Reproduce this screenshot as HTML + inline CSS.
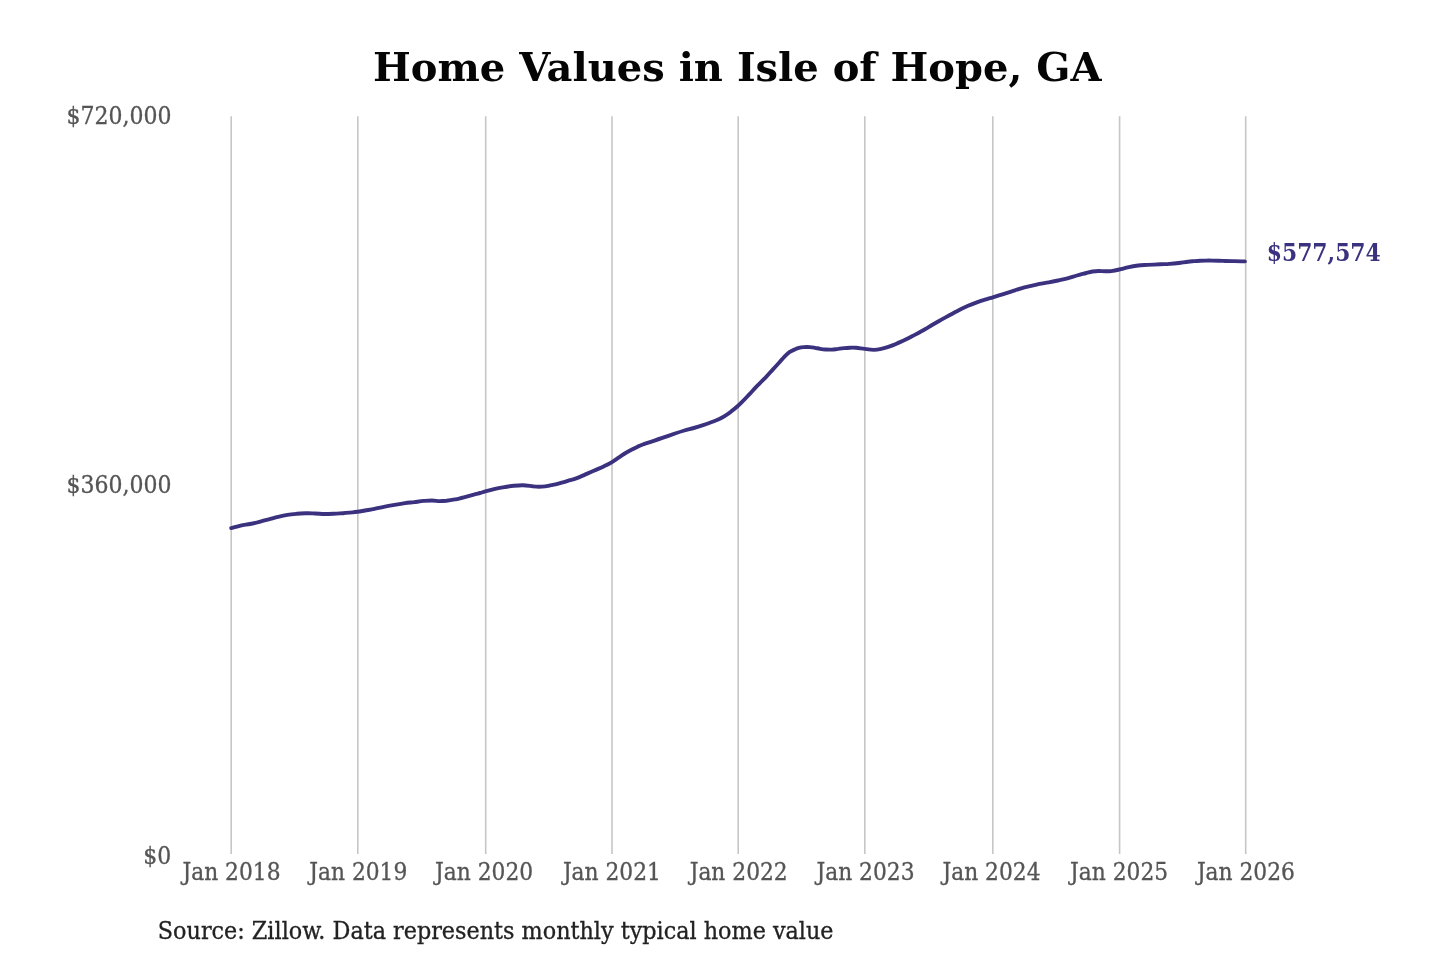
<!DOCTYPE html>
<html lang="en">
<head>
<meta charset="utf-8">
<title>Home Values in Isle of Hope, GA</title>
<style>
html,body{margin:0;padding:0;background:#fff;}
body{width:1440px;height:960px;overflow:hidden;font-family:"DejaVu Serif","Liberation Serif",serif;}
svg{display:block;}
text{font-family:"DejaVu Serif Condensed","DejaVu Serif","Liberation Serif",serif;}
.title{font-family:"DejaVu Serif","Liberation Serif",serif;font-size:40px;font-weight:bold;fill:#050505;text-anchor:middle;}
.ylab text{font-size:24.46px;fill:#555;stroke:#555;stroke-width:.3px;text-anchor:end;}
.xlab text{font-size:24.18px;fill:#555;stroke:#555;stroke-width:.3px;text-anchor:middle;}
.grid line{stroke:#c6c6c6;stroke-width:1.6;}
.val{font-size:23.8px;font-weight:bold;fill:#3b327f;}
.src{font-size:24.8px;fill:#222;stroke:#222;stroke-width:.3px;}
</style>
</head>
<body>
<svg width="1440" height="960" viewBox="0 0 1440 960">
<rect width="1440" height="960" fill="#fff"/>
<text class="title" x="737.25" y="81.0" textLength="728.4" lengthAdjust="spacingAndGlyphs">Home Values in Isle of Hope, GA</text>
<g class="grid"><line x1="231.20" y1="116.2" x2="231.20" y2="854.1"/><line x1="357.80" y1="116.2" x2="357.80" y2="854.1"/><line x1="485.70" y1="116.2" x2="485.70" y2="854.1"/><line x1="612.00" y1="116.2" x2="612.00" y2="854.1"/><line x1="738.20" y1="116.2" x2="738.20" y2="854.1"/><line x1="864.80" y1="116.2" x2="864.80" y2="854.1"/><line x1="992.80" y1="116.2" x2="992.80" y2="854.1"/><line x1="1119.60" y1="116.2" x2="1119.60" y2="854.1"/><line x1="1245.70" y1="116.2" x2="1245.70" y2="854.1"/></g>
<g class="ylab">
<text x="171.5" y="124.3" textLength="105" lengthAdjust="spacingAndGlyphs">$720,000</text>
<text x="171.5" y="492.5" textLength="105" lengthAdjust="spacingAndGlyphs">$360,000</text>
<text x="171.3" y="863.7" textLength="28" lengthAdjust="spacingAndGlyphs">$0</text>
</g>
<g class="xlab"><text x="231.5" y="879.6" textLength="98" lengthAdjust="spacingAndGlyphs">Jan 2018</text><text x="358.3" y="879.6" textLength="98" lengthAdjust="spacingAndGlyphs">Jan 2019</text><text x="484.1" y="879.6" textLength="98" lengthAdjust="spacingAndGlyphs">Jan 2020</text><text x="611.9" y="879.6" textLength="98" lengthAdjust="spacingAndGlyphs">Jan 2021</text><text x="738.7" y="879.6" textLength="98" lengthAdjust="spacingAndGlyphs">Jan 2022</text><text x="865.5" y="879.6" textLength="98" lengthAdjust="spacingAndGlyphs">Jan 2023</text><text x="991.5" y="879.6" textLength="98" lengthAdjust="spacingAndGlyphs">Jan 2024</text><text x="1119.1" y="879.6" textLength="98" lengthAdjust="spacingAndGlyphs">Jan 2025</text><text x="1245.9" y="879.6" textLength="98" lengthAdjust="spacingAndGlyphs">Jan 2026</text></g>
<path d="M231.2 528.1 C232.8 527.7 237.5 526.3 240.6 525.6 C243.7 524.9 246.9 524.6 250.0 524.0 C253.1 523.4 256.3 522.6 259.4 521.8 C262.5 521.0 265.6 520.1 268.8 519.3 C271.9 518.5 275.0 517.5 278.1 516.8 C281.2 516.1 284.4 515.4 287.5 514.9 C290.6 514.4 293.8 514.1 296.9 513.8 C300.0 513.5 303.2 513.4 306.2 513.3 C309.3 513.2 312.0 513.4 315.0 513.5 C318.0 513.6 321.3 513.9 324.4 514.0 C327.5 514.0 330.6 513.9 333.8 513.8 C336.9 513.7 340.0 513.4 343.1 513.2 C346.2 513.0 350.1 512.6 352.5 512.4 C354.9 512.2 355.6 512.1 357.7 511.8 C359.8 511.5 362.2 511.0 365.0 510.5 C367.8 510.0 371.3 509.6 374.4 508.9 C377.5 508.3 380.6 507.5 383.8 506.9 C386.9 506.3 389.6 505.8 393.1 505.2 C396.6 504.6 401.4 503.7 405.0 503.1 C408.6 502.6 411.3 502.5 414.4 502.1 C417.5 501.7 420.8 501.2 423.8 500.9 C426.7 500.7 429.3 500.5 431.9 500.5 C434.5 500.5 437.0 501.0 439.4 501.1 C441.8 501.1 443.9 501.0 446.5 500.8 C449.1 500.5 452.5 499.9 455.0 499.4 C457.5 499.0 459.2 498.5 461.2 498.0 C463.3 497.5 465.4 496.9 467.5 496.3 C469.6 495.7 471.7 495.1 473.8 494.6 C475.8 494.0 478.1 493.5 480.0 493.0 C481.9 492.5 482.8 492.1 485.3 491.4 C487.8 490.8 491.8 489.7 495.0 488.9 C498.2 488.2 501.3 487.6 504.4 487.1 C507.5 486.6 510.6 486.0 513.8 485.7 C516.9 485.4 520.0 485.1 523.1 485.2 C526.2 485.3 529.9 486.0 532.5 486.3 C535.1 486.6 536.7 486.8 538.8 486.8 C540.8 486.8 542.9 486.7 545.0 486.4 C547.1 486.2 549.2 485.6 551.2 485.2 C553.3 484.8 555.4 484.5 557.5 483.9 C559.6 483.4 561.7 482.7 563.8 482.1 C565.8 481.5 567.9 480.8 570.0 480.2 C572.1 479.6 573.8 479.2 576.2 478.3 C578.8 477.4 582.0 475.9 585.0 474.6 C588.0 473.3 591.3 471.9 594.4 470.5 C597.5 469.1 600.8 467.9 603.8 466.4 C606.7 465.0 609.4 463.7 612.0 462.1 C614.6 460.5 617.1 458.6 619.4 457.1 C621.7 455.6 623.5 454.2 625.6 453.0 C627.7 451.8 629.8 450.7 631.9 449.6 C634.0 448.5 636.0 447.4 638.1 446.4 C640.2 445.5 641.8 444.9 644.4 443.9 C647.0 443.0 650.6 441.8 653.8 440.8 C656.9 439.8 659.6 438.9 663.1 437.7 C666.6 436.5 671.5 434.7 675.0 433.5 C678.5 432.3 681.3 431.4 684.4 430.5 C687.5 429.6 690.6 428.9 693.8 428.0 C696.9 427.1 700.0 426.2 703.1 425.2 C706.2 424.2 709.9 422.8 712.5 421.8 C715.1 420.8 716.7 420.3 718.8 419.3 C720.8 418.3 722.9 417.1 725.0 415.8 C727.1 414.5 729.1 413.1 731.2 411.4 C733.4 409.8 736.0 407.7 738.1 405.8 C740.2 403.9 741.8 402.2 743.8 400.2 C745.7 398.2 747.9 395.8 750.0 393.6 C752.1 391.4 753.5 389.6 756.2 386.8 C759.0 384.0 763.5 379.6 766.2 376.8 C769.0 374.0 770.4 372.2 772.5 369.9 C774.6 367.6 776.7 365.3 778.8 363.0 C780.8 360.7 783.2 357.9 785.0 356.1 C786.8 354.3 787.8 353.3 789.4 352.2 C791.0 351.1 792.8 350.3 794.4 349.6 C796.0 348.9 797.2 348.3 798.8 347.9 C800.3 347.5 801.9 347.2 803.8 347.1 C805.6 347.0 808.1 347.0 810.0 347.1 C811.9 347.2 813.3 347.5 815.0 347.8 C816.7 348.1 818.2 348.5 820.0 348.8 C821.8 349.1 823.6 349.4 825.6 349.5 C827.6 349.6 829.8 349.7 831.9 349.6 C834.0 349.5 836.0 349.1 838.1 348.9 C840.2 348.6 842.4 348.3 844.4 348.1 C846.4 347.9 848.0 347.8 850.0 347.7 C852.0 347.6 853.8 347.6 856.2 347.8 C858.7 348.0 861.8 348.6 864.7 348.9 C867.6 349.3 871.0 349.9 873.8 349.9 C876.5 349.9 879.0 349.4 881.2 348.9 C883.5 348.5 885.4 347.9 887.5 347.2 C889.6 346.5 891.7 345.8 893.8 344.9 C895.8 344.0 897.9 343.0 900.0 342.1 C902.1 341.2 904.2 340.3 906.2 339.3 C908.3 338.3 910.4 337.2 912.5 336.1 C914.6 335.0 916.7 333.8 918.8 332.7 C920.8 331.6 922.9 330.5 925.0 329.3 C927.1 328.1 928.8 327.0 931.2 325.5 C933.8 324.0 937.0 322.2 940.0 320.5 C943.0 318.8 946.3 316.9 949.4 315.2 C952.5 313.5 955.6 311.8 958.8 310.2 C961.9 308.6 965.0 307.2 968.1 305.8 C971.2 304.4 974.4 303.2 977.5 302.1 C980.6 301.0 984.4 299.9 986.9 299.1 C989.4 298.3 990.2 298.2 992.8 297.4 C995.4 296.6 999.3 295.3 1002.5 294.3 C1005.7 293.3 1008.8 292.3 1011.9 291.3 C1015.0 290.3 1018.2 289.2 1021.2 288.3 C1024.3 287.4 1027.0 286.8 1030.0 286.1 C1033.0 285.4 1036.3 284.6 1039.4 283.9 C1042.5 283.3 1045.6 283.0 1048.8 282.4 C1051.9 281.8 1055.0 281.2 1058.1 280.5 C1061.2 279.8 1064.4 279.1 1067.5 278.3 C1070.6 277.5 1073.8 276.4 1076.9 275.5 C1080.0 274.6 1083.7 273.7 1086.2 273.0 C1088.8 272.3 1090.4 271.8 1092.5 271.5 C1094.6 271.2 1096.7 271.0 1098.8 271.0 C1100.8 271.0 1102.9 271.2 1105.0 271.2 C1107.1 271.3 1108.8 271.4 1111.2 271.1 C1113.7 270.8 1116.5 270.2 1119.4 269.5 C1122.3 268.8 1125.6 267.8 1128.8 267.1 C1131.9 266.4 1135.0 265.9 1138.1 265.5 C1141.2 265.1 1143.8 265.1 1147.5 264.9 C1151.2 264.7 1156.3 264.5 1160.0 264.3 C1163.7 264.1 1166.3 264.2 1169.4 263.9 C1172.5 263.7 1175.6 263.4 1178.8 263.0 C1181.9 262.6 1185.5 262.0 1188.1 261.7 C1190.7 261.4 1192.6 261.3 1194.6 261.1 C1196.6 260.9 1198.1 260.8 1200.0 260.7 C1201.9 260.6 1204.0 260.6 1206.0 260.6 C1208.0 260.5 1209.2 260.5 1212.1 260.6 C1214.9 260.7 1219.7 260.8 1223.1 260.9 C1226.5 261.0 1228.9 261.1 1232.5 261.1 C1236.1 261.2 1242.8 261.4 1244.9 261.4" fill="none" stroke="#3b327f" stroke-width="3.9" stroke-linecap="round" stroke-linejoin="round"/>
<text class="val" x="1266.75" y="260.5" textLength="114" lengthAdjust="spacingAndGlyphs">$577,574</text>
<text class="src" x="157.8" y="938.7" textLength="675.75" lengthAdjust="spacingAndGlyphs">Source: Zillow. Data represents monthly typical home value</text>
</svg>
</body>
</html>
